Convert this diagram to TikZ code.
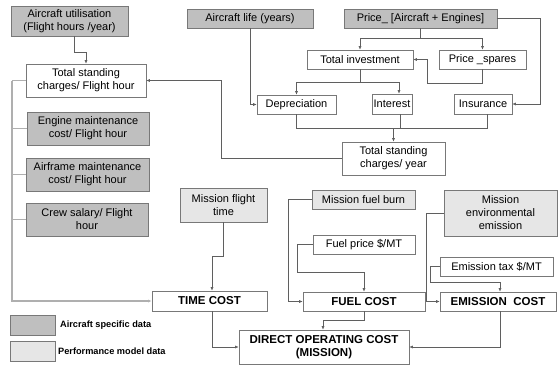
\documentclass[tikz,border=0pt]{standalone}
\usepackage{fontspec}
\setmainfont{Liberation Sans}
\usetikzlibrary{arrows.meta}

\definecolor{darkdata}{RGB}{191,191,191}
\definecolor{lightdata}{RGB}{230,230,230}
\definecolor{boxline}{RGB}{120,120,120}
\definecolor{linkline}{RGB}{95,95,95}
\definecolor{busline}{RGB}{175,175,175}

\begin{document}
\begin{tikzpicture}[
        x=1pt, y=-1pt,
        box/.style={draw=boxline, line width=0.6pt, inner sep=1pt, align=center,
            font=\fontsize{11}{13}\selectfont},
        darkbox/.style={box, fill=darkdata},
        lightbox/.style={box, fill=lightdata},
        whitebox/.style={box, fill=white},
        costbox/.style={box, fill=white, font=\fontsize{11.5}{13}\selectfont\bfseries},
        legtext/.style={anchor=west, inner sep=0pt, font=\fontsize{9.2}{11}\selectfont\bfseries},
        link/.style={draw=linkline, line width=0.6pt},
        arr/.style={link, -{Latex[length=3.5pt,width=3pt]}},
        bus/.style={draw=busline, line width=1.2pt}]

        \useasboundingbox (0,0) rectangle (558,365);

        % --- LEFT COLUMN: per flight hour data ---
        \node[darkbox, minimum width=117, minimum height=30] (util) at (69.5,21)
            {Aircraft utilisation\\(Flight hours /year)};
        \node[whitebox, minimum width=120, minimum height=33] (tscfh) at (86,80.5)
            {Total standing\\charges/ Flight hour};
        \node[darkbox, minimum width=122, minimum height=33] (engine) at (88,128.5)
            {Engine maintenance\\cost/ Flight hour};
        \node[darkbox, minimum width=123, minimum height=33] (airframe) at (87.5,174.5)
            {Airframe maintenance\\cost/ Flight hour};
        \node[darkbox, minimum width=122, minimum height=33] (crew) at (87,219.5)
            {Crew salary/ Flight\\hour};

        % --- TOP: standing charges ---
        \node[darkbox, minimum width=126, minimum height=19] (life) at (250,18.5)
            {Aircraft life (years)};
        \node[darkbox, minimum width=153, minimum height=19] (price) at (420.5,18.5)
            {Price\_ [Aircraft + Engines]};
        \node[whitebox, minimum width=106, minimum height=19] (totinv) at (360,59.5)
            {Total investment};
        \node[whitebox, minimum width=87, minimum height=19] (spares) at (482.5,59.5)
            {Price \_spares};
        \node[whitebox, minimum width=79, minimum height=19] (depr) at (296.5,104.5)
            {Depreciation};
        \node[whitebox, minimum width=40, minimum height=20] (interest) at (392,104)
            {Interest};
        \node[whitebox, minimum width=58, minimum height=20] (insur) at (483,104)
            {Insurance};
        \node[whitebox, minimum width=103, minimum height=33] (tscyr) at (393.5,158.5)
            {Total standing\\charges/ year};

        % --- MIDDLE: mission data ---
        \node[lightbox, minimum width=87, minimum height=34] (mft) at (223.5,205)
            {Mission flight\\time};
        \node[lightbox, minimum width=103, minimum height=19] (mfb) at (363.5,199.5)
            {Mission fuel burn};
        \node[whitebox, minimum width=102, minimum height=19] (fuelprice) at (364,244.5)
            {Fuel price \$/MT};
        \node[lightbox, minimum width=113, minimum height=46] (mee) at (500.5,213)
            {Mission\\environmental\\emission};
        \node[whitebox, minimum width=113, minimum height=19] (emtax) at (496.5,266.5)
            {Emission tax \$/MT};

        % --- BOTTOM: costs ---
        \node[costbox, minimum width=115, minimum height=20] (timecost) at (209.5,301) {TIME COST};
        \node[costbox, minimum width=122, minimum height=19] (fuelcost) at (364,301.5) {FUEL COST};
        \node[costbox, minimum width=116, minimum height=19] (emcost) at (498,301.5) {EMISSION~~COST};
        \node[costbox, minimum width=170, minimum height=34] (doc) at (324,347)
            {DIRECT OPERATING COST\\(MISSION)};

        % --- LEGEND ---
        \node[darkbox, minimum width=45, minimum height=20] (legdark) at (32.5,325) {};
        \node[lightbox, minimum width=45, minimum height=20] (leglight) at (32.5,351) {};
        \node[legtext] (legdarktxt) at (60,325) {Aircraft specific data};
        \node[legtext] (leglighttxt) at (58,351) {Performance model data};

        % --- connectors ---
        \coordinate (bus) at (12,80.5);
        \draw[bus] (tscfh.west) -- (bus);
        \foreach \n in {engine,airframe,crew}
            \draw[bus] (\n.west) -- (\n.west -| bus);
        \draw[bus, -{Latex[length=3.5pt,width=3pt]}] (bus) |- (timecost.west);

        \draw[arr] ([xshift=4.5pt]util.south) -- ++(0,16) -| (tscfh.north);
        \draw[arr] (life.south) |- (depr.west);
        \draw[arr] (price.south) -- ++(0,9.5) coordinate (pj) -| (totinv.north);
        \draw[arr] (pj) -| (spares.north);
        \draw[arr] (price.east) -- ++(43,0) |- (insur.east);
        \draw[arr] (spares.south) -- ++(0,14) -| ([xshift=14pt]totinv.east) -- (totinv.east);
        \draw[arr] (totinv.south) -- ++(0,13) coordinate (ij) -| (depr.north);
        \draw[arr] (ij) -| ([xshift=7pt]interest.north);

        \coordinate (sj) at (393.5,128);
        \draw[link] (depr.south) |- ([xshift=4pt]insur.south |- sj) -- ([xshift=4pt]insur.south);
        \draw[link] ([xshift=8pt]interest.south) -- ([xshift=8pt]interest.south |- sj);
        \draw[arr] (sj) -- (tscyr.north);
        \draw[arr] (tscyr.west) -- ++(-120,0) |- (tscfh.east);

        \draw[arr] (mft.south) -- ++(0,34) -| ([xshift=2.5pt]timecost.north);
        \draw[arr] (mfb.west) -- ++(-23,0) |- (fuelcost.west);
        \draw[arr] (fuelprice.west) -- ++(-15,0) |- ([yshift=19pt]fuelcost.north) -- (fuelcost.north);
        \draw[arr] (mee.west) -- ++(-17,0) |- (emcost.west);
        \draw[arr] (emtax.west) -- ++(-9,0) |- ([xshift=2pt,yshift=9pt]emcost.north)
            -- ([xshift=2pt]emcost.north);

        \draw[arr] ([xshift=2.5pt]timecost.south) |- (doc.west);
        \draw[arr] (fuelcost.south) -- ++(0,9) -| ([xshift=-1pt]doc.north);
        \draw[arr] ([xshift=2pt]emcost.south) |- (doc.east);

    \end{tikzpicture}
\end{document}
